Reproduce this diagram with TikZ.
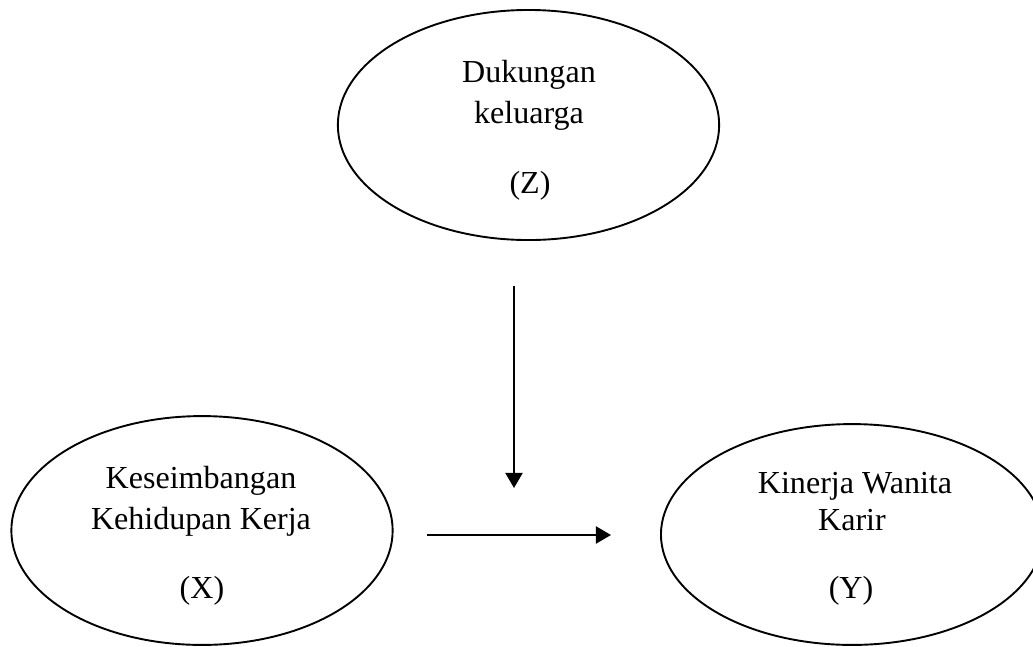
\documentclass[tikz,border=0pt]{standalone}
\usepackage{fontspec}
\setmainfont{Liberation Serif}
\usepackage{tikz}
\usetikzlibrary{arrows.meta,positioning,shapes.geometric}
\tikzset{
  ar/.style={-{Triangle[length=3.8mm,width=4.3mm]},line width=1.5pt,black},
  oval/.style={draw,ellipse,line width=1.35pt,inner sep=0pt},
  lbl/.style={anchor=base,inner sep=0pt,font=\fontsize{22.8}{28}\selectfont}
}
\begin{document}
\begin{tikzpicture}[x=0.025cm,y=-0.025cm]
\useasboundingbox (0,0) rectangle (1033,646);
% variabel
\node[oval,minimum width=9.53cm,minimum height=5.75cm] (z) at (528.5,125) {};
\node[oval,minimum width=9.53cm,minimum height=5.72cm] (x) at (202,530.5) {};
\node[oval,minimum width=9.55cm,minimum height=5.52cm] (y) at (852,534.5) {};
\node[lbl] (z1) at (529,82) {Dukungan};
\node[lbl] (z2) at (529,123) {keluarga};
\node[lbl] (z3) at (530,193) {(Z)};
\node[lbl] (x1) at (201,488) {Keseimbangan};
\node[lbl] (x2) at (201,529) {Kehidupan Kerja};
\node[lbl] (x3) at (202,598) {(X)};
\node[lbl] (y1) at (855,493) {Kinerja Wanita};
\node[lbl] (y2) at (852,530) {Karir};
\node[lbl] (y3) at (851,598) {(Y)};
% panah
\coordinate (zs) at (514,286);
\coordinate (ze) at (514,488);
\coordinate (xs) at (427,535);
\coordinate (ye) at (611,535);
\draw[ar] (zs)--(ze);
\draw[ar] (xs)--(ye);
\end{tikzpicture}
\end{document}
